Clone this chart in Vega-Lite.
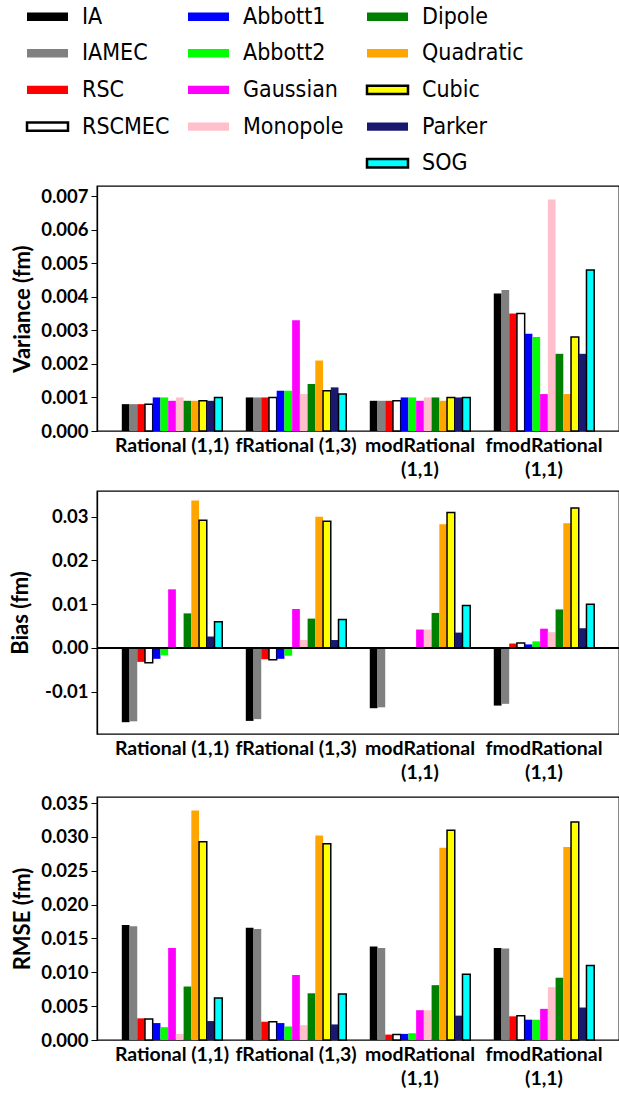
{
  "$schema": "https://vega.github.io/schema/vega-lite/v6.json",
  "padding": {"left": 8, "top": 5, "right": 2, "bottom": 2},
  "spacing": 10,
  "data": {"values": [
    {"group": "Rational (1,1)", "model": "IA", "Variance": 0.0008, "Bias": -0.017, "RMSE": 0.0170},
    {"group": "Rational (1,1)", "model": "IAMEC", "Variance": 0.0008, "Bias": -0.0168, "RMSE": 0.0168},
    {"group": "Rational (1,1)", "model": "RSC", "Variance": 0.0008, "Bias": -0.0032, "RMSE": 0.0032},
    {"group": "Rational (1,1)", "model": "RSCMEC", "Variance": 0.0008, "Bias": -0.0034, "RMSE": 0.0031},
    {"group": "Rational (1,1)", "model": "Abbott1", "Variance": 0.001, "Bias": -0.0025, "RMSE": 0.0025},
    {"group": "Rational (1,1)", "model": "Abbott2", "Variance": 0.001, "Bias": -0.0017, "RMSE": 0.0019},
    {"group": "Rational (1,1)", "model": "Gaussian", "Variance": 0.0009, "Bias": 0.0134, "RMSE": 0.0136},
    {"group": "Rational (1,1)", "model": "Monopole", "Variance": 0.001, "Bias": 0, "RMSE": 0.0009},
    {"group": "Rational (1,1)", "model": "Dipole", "Variance": 0.0009, "Bias": 0.0079, "RMSE": 0.0079},
    {"group": "Rational (1,1)", "model": "Quadratic", "Variance": 0.0009, "Bias": 0.0337, "RMSE": 0.0339},
    {"group": "Rational (1,1)", "model": "Cubic", "Variance": 0.0009, "Bias": 0.0292, "RMSE": 0.0293},
    {"group": "Rational (1,1)", "model": "Parker", "Variance": 0.0009, "Bias": 0.0026, "RMSE": 0.0028},
    {"group": "Rational (1,1)", "model": "SOG", "Variance": 0.001, "Bias": 0.006, "RMSE": 0.0062},
    {"group": "fRational (1,3)", "model": "IA", "Variance": 0.001, "Bias": -0.0167, "RMSE": 0.0166},
    {"group": "fRational (1,3)", "model": "IAMEC", "Variance": 0.001, "Bias": -0.0163, "RMSE": 0.0164},
    {"group": "fRational (1,3)", "model": "RSC", "Variance": 0.001, "Bias": -0.0026, "RMSE": 0.0027},
    {"group": "fRational (1,3)", "model": "RSCMEC", "Variance": 0.001, "Bias": -0.0027, "RMSE": 0.0027},
    {"group": "fRational (1,3)", "model": "Abbott1", "Variance": 0.0012, "Bias": -0.0025, "RMSE": 0.0025},
    {"group": "fRational (1,3)", "model": "Abbott2", "Variance": 0.0012, "Bias": -0.0018, "RMSE": 0.002},
    {"group": "fRational (1,3)", "model": "Gaussian", "Variance": 0.0033, "Bias": 0.0089, "RMSE": 0.0096},
    {"group": "fRational (1,3)", "model": "Monopole", "Variance": 0.0011, "Bias": 0.0018, "RMSE": 0.0022},
    {"group": "fRational (1,3)", "model": "Dipole", "Variance": 0.0014, "Bias": 0.0067, "RMSE": 0.0069},
    {"group": "fRational (1,3)", "model": "Quadratic", "Variance": 0.0021, "Bias": 0.030, "RMSE": 0.0302},
    {"group": "fRational (1,3)", "model": "Cubic", "Variance": 0.0012, "Bias": 0.029, "RMSE": 0.029},
    {"group": "fRational (1,3)", "model": "Parker", "Variance": 0.0013, "Bias": 0.0018, "RMSE": 0.0023},
    {"group": "fRational (1,3)", "model": "SOG", "Variance": 0.0011, "Bias": 0.0065, "RMSE": 0.0068},
    {"group": "modRational (1,1)", "model": "IA", "Variance": 0.0009, "Bias": -0.0138, "RMSE": 0.0138},
    {"group": "modRational (1,1)", "model": "IAMEC", "Variance": 0.0009, "Bias": -0.0136, "RMSE": 0.0136},
    {"group": "modRational (1,1)", "model": "RSC", "Variance": 0.0009, "Bias": 0, "RMSE": 0.0008},
    {"group": "modRational (1,1)", "model": "RSCMEC", "Variance": 0.0009, "Bias": 0, "RMSE": 0.0008},
    {"group": "modRational (1,1)", "model": "Abbott1", "Variance": 0.001, "Bias": 0, "RMSE": 0.0009},
    {"group": "modRational (1,1)", "model": "Abbott2", "Variance": 0.001, "Bias": 0.0002, "RMSE": 0.001},
    {"group": "modRational (1,1)", "model": "Gaussian", "Variance": 0.0009, "Bias": 0.0042, "RMSE": 0.0044},
    {"group": "modRational (1,1)", "model": "Monopole", "Variance": 0.001, "Bias": 0.0042, "RMSE": 0.0044},
    {"group": "modRational (1,1)", "model": "Dipole", "Variance": 0.001, "Bias": 0.008, "RMSE": 0.0081},
    {"group": "modRational (1,1)", "model": "Quadratic", "Variance": 0.0009, "Bias": 0.0283, "RMSE": 0.0284},
    {"group": "modRational (1,1)", "model": "Cubic", "Variance": 0.001, "Bias": 0.031, "RMSE": 0.031},
    {"group": "modRational (1,1)", "model": "Parker", "Variance": 0.001, "Bias": 0.0035, "RMSE": 0.0036},
    {"group": "modRational (1,1)", "model": "SOG", "Variance": 0.001, "Bias": 0.0097, "RMSE": 0.0097},
    {"group": "fmodRational (1,1)", "model": "IA", "Variance": 0.0041, "Bias": -0.0132, "RMSE": 0.0136},
    {"group": "fmodRational (1,1)", "model": "IAMEC", "Variance": 0.0042, "Bias": -0.0128, "RMSE": 0.0135},
    {"group": "fmodRational (1,1)", "model": "RSC", "Variance": 0.0035, "Bias": 0.001, "RMSE": 0.0035},
    {"group": "fmodRational (1,1)", "model": "RSCMEC", "Variance": 0.0035, "Bias": 0.0011, "RMSE": 0.0036},
    {"group": "fmodRational (1,1)", "model": "Abbott1", "Variance": 0.0029, "Bias": 0.0008, "RMSE": 0.003},
    {"group": "fmodRational (1,1)", "model": "Abbott2", "Variance": 0.0028, "Bias": 0.0015, "RMSE": 0.003},
    {"group": "fmodRational (1,1)", "model": "Gaussian", "Variance": 0.0011, "Bias": 0.0044, "RMSE": 0.0046},
    {"group": "fmodRational (1,1)", "model": "Monopole", "Variance": 0.0069, "Bias": 0.0036, "RMSE": 0.0078},
    {"group": "fmodRational (1,1)", "model": "Dipole", "Variance": 0.0023, "Bias": 0.0088, "RMSE": 0.0092},
    {"group": "fmodRational (1,1)", "model": "Quadratic", "Variance": 0.0011, "Bias": 0.0285, "RMSE": 0.0285},
    {"group": "fmodRational (1,1)", "model": "Cubic", "Variance": 0.0028, "Bias": 0.032, "RMSE": 0.0322},
    {"group": "fmodRational (1,1)", "model": "Parker", "Variance": 0.0023, "Bias": 0.0045, "RMSE": 0.0048},
    {"group": "fmodRational (1,1)", "model": "SOG", "Variance": 0.0048, "Bias": 0.01, "RMSE": 0.011}
  ]},
  "vconcat": [
    {
      "width": 522, "height": 245,
      "mark": {"type": "bar", "strokeWidth": 1.5, "stroke": {"expr": "indexof(['RSCMEC','Cubic','SOG'], datum.model || datum.value) >= 0 ? 'black' : null"}},
      "encoding": {
        "x": {"field": "group", "type": "nominal", "sort": ["Rational (1,1)", "fRational (1,3)", "modRational (1,1)", "fmodRational (1,1)"], "scale": {"paddingInner": 0.19, "paddingOuter": 0.2}, "axis": {"title": null, "labelExpr": "indexof(datum.label, 'mod') >= 0 ? split(datum.label, ' ') : datum.label"}},
        "xOffset": {"field": "model", "type": "nominal", "sort": ["IA","IAMEC","RSC","RSCMEC","Abbott1","Abbott2","Gaussian","Monopole","Dipole","Quadratic","Cubic","Parker","SOG"], "scale": {"paddingInner": 0, "paddingOuter": 0}},
        "y": {"field": "Variance", "type": "quantitative", "title": "Variance (fm)", "scale": {"domain": [0, 0.0073], "nice": false}, "axis": {"values": [0, 0.001, 0.002, 0.003, 0.004, 0.005, 0.006, 0.007], "format": ".3f"}},
        "color": {"field": "model", "type": "nominal", "scale": {"domain": ["IA","IAMEC","RSC","RSCMEC"," ","Abbott1","Abbott2","Gaussian","Monopole","  ","Dipole","Quadratic","Cubic","Parker","SOG"], "range": ["#000000","#808080","#FF0000","#FFFFFF","transparent","#0000FF","#00FF00","#FF00FF","#FFC0CB","transparent","#008000","#FFA500","#FFFF00","#191970","#00FFFF"]},
          "legend": {"orient": "none", "legendX": -61, "legendY": -181, "columns": 3, "title": null, "symbolType": "M-2.05,-0.42H2.05V0.42H-2.05Z", "symbolSize": 400, "labelFont": "DejaVu Sans Condensed, DejaVu Sans", "labelFontSize": 23, "labelFontWeight": "normal", "labelOffset": 23, "rowPadding": 12.7, "columnPadding": 18, "labelColor": "black", "labelLimit": 0, "symbolOpacity": 1, "symbolStrokeWidth": 2.5}}
      }
    },
    {
      "width": 522, "height": 243,
      "layer": [
        {
          "mark": {"type": "bar", "strokeWidth": 1.5, "stroke": {"expr": "indexof(['RSCMEC','Cubic','SOG'], datum.model || datum.value) >= 0 ? 'black' : null"}},
          "encoding": {
            "x": {"field": "group", "type": "nominal", "sort": ["Rational (1,1)", "fRational (1,3)", "modRational (1,1)", "fmodRational (1,1)"], "scale": {"paddingInner": 0.19, "paddingOuter": 0.2}, "axis": {"title": null, "labelExpr": "indexof(datum.label, 'mod') >= 0 ? split(datum.label, ' ') : datum.label"}},
            "xOffset": {"field": "model", "type": "nominal", "sort": ["IA","IAMEC","RSC","RSCMEC","Abbott1","Abbott2","Gaussian","Monopole","Dipole","Quadratic","Cubic","Parker","SOG"], "scale": {"paddingInner": 0, "paddingOuter": 0}},
            "y": {"field": "Bias", "type": "quantitative", "title": "Bias (fm)", "scale": {"domain": [-0.0197, 0.0359], "nice": false, "zero": false}, "axis": {"values": [-0.01, 0, 0.01, 0.02, 0.03], "titlePadding": 12, "labelExpr": "replace(format(datum.value, '.2f'), '\u2212', '-')"}},
            "color": {"field": "model", "type": "nominal"}
          }
        },
        {
          "mark": {"type": "rule", "color": "black", "strokeWidth": 1.5},
          "encoding": {"y": {"datum": 0}}
        }
      ]
    },
    {
      "width": 522, "height": 243,
      "mark": {"type": "bar", "strokeWidth": 1.5, "stroke": {"expr": "indexof(['RSCMEC','Cubic','SOG'], datum.model || datum.value) >= 0 ? 'black' : null"}},
      "encoding": {
        "x": {"field": "group", "type": "nominal", "sort": ["Rational (1,1)", "fRational (1,3)", "modRational (1,1)", "fmodRational (1,1)"], "scale": {"paddingInner": 0.19, "paddingOuter": 0.2}, "axis": {"title": null, "labelExpr": "indexof(datum.label, 'mod') >= 0 ? split(datum.label, ' ') : datum.label"}},
        "xOffset": {"field": "model", "type": "nominal", "sort": ["IA","IAMEC","RSC","RSCMEC","Abbott1","Abbott2","Gaussian","Monopole","Dipole","Quadratic","Cubic","Parker","SOG"], "scale": {"paddingInner": 0, "paddingOuter": 0}},
        "y": {"field": "RMSE", "type": "quantitative", "title": "RMSE (fm)", "scale": {"domain": [0, 0.0359], "nice": false}, "axis": {"values": [0, 0.005, 0.01, 0.015, 0.02, 0.025, 0.03, 0.035], "format": ".3f"}},
        "color": {"field": "model", "type": "nominal"}
      }
    }
  ],
  "config": {
    "font": "Lato",
    "view": {"stroke": "black", "strokeWidth": 1.3},
    "axis": {"grid": false, "labelFont": "Lato", "titleFont": "Lato", "labelFontWeight": "bold", "titleFontWeight": "bold", "labelColor": "black", "titleColor": "black", "tickColor": "black", "domainColor": "black", "labelFontSize": 18.5, "titleFontSize": 22},
    "axisX": {"labelAngle": 0, "ticks": false, "domain": false, "labelPadding": 5, "labelLineHeight": 24, "labelFontSize": 19.5},
    "axisY": {"tickSize": 6, "labelPadding": 3, "titlePadding": 6, "domainWidth": 1.3}
  }
}
